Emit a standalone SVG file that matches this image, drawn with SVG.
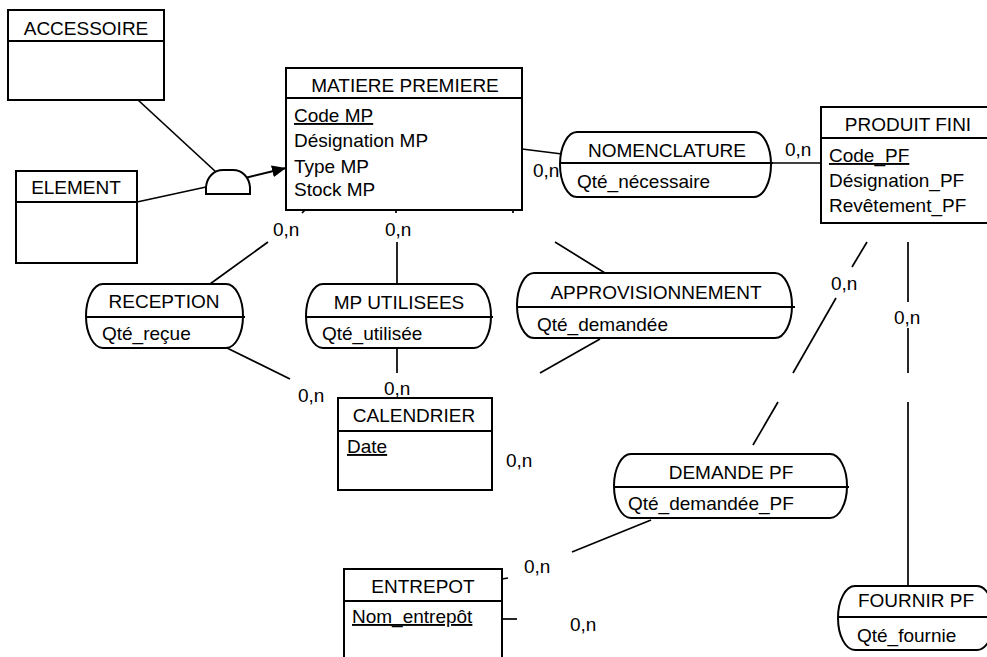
<svg xmlns="http://www.w3.org/2000/svg" width="987" height="657" viewBox="0 0 987 657">
<style>
text{font-family:"Liberation Sans",Arial,sans-serif;font-size:19px;fill:#000}
.c{text-anchor:middle}
.u{text-decoration:underline}
.box{fill:#fff;stroke:#000;stroke-width:2}
.div{stroke:#000;stroke-width:2;fill:none}
.ln{stroke:#000;stroke-width:1.7;fill:none}
</style>
<defs>
<marker id="arr" viewBox="0 0 14 12" refX="14" refY="6" markerWidth="14" markerHeight="12" markerUnits="userSpaceOnUse" orient="auto">
<path d="M0,0 L14,6 L0,12 Z" fill="#000"/>
</marker>
</defs>
<rect width="987" height="657" fill="#fff"/>

<g id="connectors">
<line class="ln" x1="138" y1="100" x2="216" y2="172"/>
<line class="ln" x1="137" y1="202" x2="206" y2="187"/>
<line class="ln" x1="245" y1="178" x2="286" y2="168" marker-end="url(#arr)" style="stroke-width:2"/>
<line class="ln" x1="522" y1="149" x2="562" y2="154"/>
<line class="ln" x1="771" y1="163" x2="821" y2="163"/>
<line class="ln" x1="305" y1="210" x2="302" y2="213"/>
<line class="ln" x1="268" y1="242" x2="210" y2="284"/>
<line class="ln" x1="225" y1="347" x2="290" y2="379"/>
<line class="ln" x1="396" y1="210" x2="396" y2="213"/>
<line class="ln" x1="397" y1="242" x2="397" y2="284"/>
<line class="ln" x1="397" y1="348" x2="397" y2="373"/>
<line class="ln" x1="513" y1="210" x2="513" y2="213"/>
<line class="ln" x1="555" y1="242" x2="605" y2="273"/>
<line class="ln" x1="600" y1="339" x2="540" y2="373"/>
<line class="ln" x1="867" y1="242" x2="852" y2="267"/>
<line class="ln" x1="836" y1="298" x2="793" y2="373"/>
<line class="ln" x1="778" y1="402" x2="753" y2="445"/>
<line class="ln" x1="651" y1="520" x2="572" y2="552"/>
<line class="ln" x1="502" y1="579" x2="508" y2="578"/>
<line class="ln" x1="908" y1="242" x2="908" y2="302"/>
<line class="ln" x1="908" y1="328" x2="908" y2="373"/>
<line class="ln" x1="908" y1="402" x2="908" y2="586"/>
<line class="ln" x1="502" y1="619" x2="517" y2="619"/>
<text x="273" y="236">0,n</text>
<text x="385" y="236">0,n</text>
<text x="533" y="177">0,n</text>
<text x="785" y="156">0,n</text>
<text x="298" y="402">0,n</text>
<text x="384" y="395">0,n</text>
<text x="506" y="467">0,n</text>
<text x="831" y="290">0,n</text>
<text x="894" y="324">0,n</text>
<text x="524" y="573">0,n</text>
<text x="570" y="631">0,n</text>
</g>

<g id="inheritance">
<path class="box" d="M206,194 L206,187 C207,177 214,170 223,170 L233,170 C242,170 249,177 250,187 L250,194 Z"/>
</g>

<g id="accessoire">
<rect class="box" x="8" y="10" width="156" height="90"/>
<line class="div" x1="8" y1="41" x2="164" y2="41"/>
<text class="c" x="86" y="35">ACCESSOIRE</text>
</g>

<g id="element">
<rect class="box" x="16" y="171" width="121" height="92"/>
<line class="div" x1="16" y1="202" x2="137" y2="202"/>
<text class="c" x="76" y="194">ELEMENT</text>
</g>

<g id="matiere-premiere">
<rect class="box" x="286" y="68" width="236" height="142"/>
<line class="div" x1="286" y1="98" x2="522" y2="98"/>
<text class="c" x="405" y="92">MATIERE PREMIERE</text>
<text class="u" x="294" y="122">Code MP</text>
<text x="294" y="147">Désignation MP</text>
<text x="294" y="173">Type MP</text>
<text x="294" y="196">Stock MP</text>
</g>

<g id="produit-fini">
<rect class="box" x="821" y="107" width="180" height="116"/>
<line class="div" x1="821" y1="138" x2="1001" y2="138"/>
<text class="c" x="908" y="131">PRODUIT FINI</text>
<text class="u" x="829" y="162">Code_PF</text>
<text x="829" y="187">Désignation_PF</text>
<text x="829" y="212">Revêtement_PF</text>
</g>

<g id="nomenclature">
<path class="box" d="M577,132 H754 A17,32.5 0 0 1 771,164.5 A17,32.5 0 0 1 754,197 H577 A17,32.5 0 0 1 560,164.5 A17,32.5 0 0 1 577,132 Z"/>
<line class="div" x1="560" y1="163" x2="773" y2="163"/>
<text class="c" x="667" y="157">NOMENCLATURE</text>
<text x="577" y="188">Qté_nécessaire</text>
</g>

<g id="reception">
<path class="box" d="M103,284 H226 A17,32 0 0 1 243,316 A17,32 0 0 1 226,348 H103 A17,32 0 0 1 86,316 A17,32 0 0 1 103,284 Z"/>
<line class="div" x1="86" y1="317" x2="245" y2="317"/>
<text class="c" x="164" y="308">RECEPTION</text>
<text x="102" y="340">Qté_reçue</text>
</g>

<g id="mp-utilisees">
<path class="box" d="M323,284 H474 A17,32 0 0 1 491,316 A17,32 0 0 1 474,348 H323 A17,32 0 0 1 306,316 A17,32 0 0 1 323,284 Z"/>
<line class="div" x1="306" y1="317" x2="493" y2="317"/>
<text class="c" x="399" y="309">MP UTILISEES</text>
<text x="322" y="340">Qté_utilisée</text>
</g>

<g id="approvisionnement">
<path class="box" d="M534,273 H775 A17,32.5 0 0 1 792,305.5 A17,32.5 0 0 1 775,338 H534 A17,32.5 0 0 1 517,305.5 A17,32.5 0 0 1 534,273 Z"/>
<line class="div" x1="517" y1="307" x2="795" y2="307"/>
<text class="c" x="656" y="299">APPROVISIONNEMENT</text>
<text x="537" y="331">Qté_demandée</text>
</g>

<g id="calendrier">
<rect class="box" x="338" y="398" width="154" height="92"/>
<line class="div" x1="338" y1="431" x2="492" y2="431"/>
<text class="c" x="414" y="422">CALENDRIER</text>
<text class="u" x="347" y="453">Date</text>
</g>

<g id="demande-pf">
<path class="box" d="M631,454 H830 A17,32 0 0 1 847,486 A17,32 0 0 1 830,518 H631 A17,32 0 0 1 614,486 A17,32 0 0 1 631,454 Z"/>
<line class="div" x1="614" y1="487" x2="849" y2="487"/>
<text class="c" x="731" y="479">DEMANDE PF</text>
<text x="628" y="510">Qté_demandée_PF</text>
</g>

<g id="entrepot">
<rect class="box" x="344" y="569" width="158" height="100"/>
<line class="div" x1="344" y1="601" x2="502" y2="601"/>
<text class="c" x="423" y="593">ENTREPOT</text>
<text class="u" x="352" y="623">Nom_entrepôt</text>
</g>

<g id="fournir-pf">
<path class="box" d="M855,586 H977 A17,32 0 0 1 994,618 A17,32 0 0 1 977,650 H855 A17,32 0 0 1 838,618 A17,32 0 0 1 855,586 Z"/>
<line class="div" x1="838" y1="617" x2="996" y2="617"/>
<text class="c" x="916" y="607">FOURNIR PF</text>
<text x="857" y="642">Qté_fournie</text>
</g>
</svg>
